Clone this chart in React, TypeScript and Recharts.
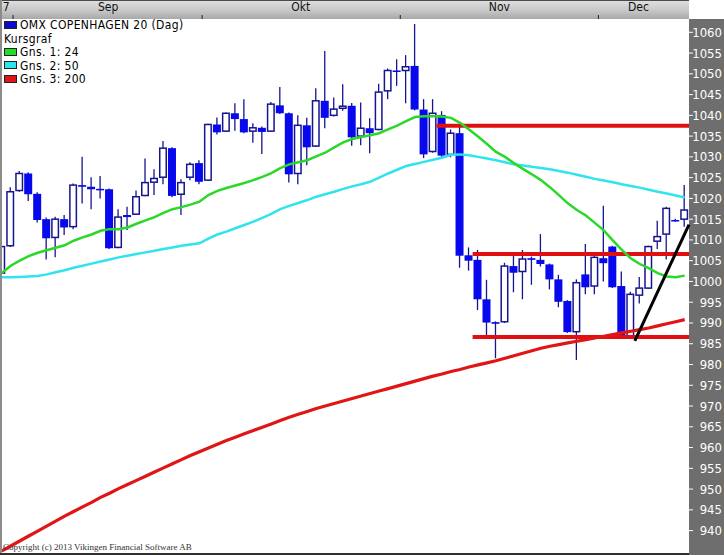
import React from "react";
import { ComposedChart, Bar, Line, XAxis, YAxis, ReferenceLine } from "recharts";

const NARROW = '"Liberation Sans Narrow", "Arial Narrow", "DejaVu Sans Condensed", sans-serif';

// daily OHLC, last week of Aug to first week of Dec 2013
const opens = [
  1002.0, 1008.6, 1021.9, 1026.0, 1021.1, 1015.0, 1010.6, 1015.0, 1013.2, 1023.2,
  1022.8, 1022.3, 1022.2, 1008.2, 1016.0, 1016.2, 1020.7, 1023.9, 1025.1, 1032.1,
  1021.0, 1025.1, 1028.5, 1024.4, 1037.8, 1036.2, 1040.5, 1039.1, 1036.2, 1037.0,
  1036.2, 1042.4, 1040.5, 1026.0, 1037.6, 1032.6, 1043.5, 1040.0, 1041.7, 1042.3,
  1035.0, 1036.9, 1036.6, 1045.9, 1050.8, 1050.8, 1051.9, 1041.4, 1031.3, 1040.1,
  1030.6, 1035.7, 1006.3, 1005.2, 995.7, 990.2, 990.3, 1003.7, 1002.4, 1005.6,
  1005.2, 1004.1, 1000.5, 995.3, 987.9, 1001.7, 998.9, 1005.6, 1008.4, 998.9,
  986.6, 996.7, 998.4, 1009.7, 1011.4, 1014.8, 1015.0,
];
const highs = [
  1008.8, 1022.7, 1026.6, 1026.3, 1021.5, 1015.4, 1015.6, 1016.0, 1023.6, 1030.0,
  1025.1, 1025.4, 1022.4, 1017.4, 1018.0, 1021.9, 1029.6, 1027.0, 1033.8, 1032.3,
  1024.6, 1028.7, 1029.2, 1038.0, 1039.5, 1040.7, 1042.9, 1043.9, 1038.1, 1037.3,
  1043.2, 1046.8, 1040.7, 1040.0, 1039.4, 1046.5, 1055.5, 1044.3, 1047.5, 1043.0,
  1043.1, 1039.3, 1047.6, 1051.3, 1053.5, 1054.5, 1062.0, 1043.9, 1043.9, 1041.0,
  1036.6, 1037.3, 1008.2, 1007.6, 1000.4, 990.4, 1004.5, 1006.6, 1007.6, 1006.0,
  1011.4, 1004.3, 1001.6, 995.5, 1000.5, 1009.0, 1007.0, 1018.2, 1008.6, 1002.4,
  997.5, 1001.1, 1008.6, 1014.6, 1018.0, 1015.1, 1023.2,
];
const lows = [
  1001.2, 1008.3, 1021.6, 1019.4, 1014.2, 1005.3, 1005.8, 1011.2, 1012.6, 1018.8,
  1017.4, 1020.0, 1007.8, 1008.0, 1012.4, 1016.0, 1020.5, 1020.8, 1023.4, 1020.3,
  1016.0, 1024.4, 1023.4, 1024.2, 1035.4, 1036.0, 1036.3, 1035.7, 1033.4, 1030.7,
  1036.0, 1040.3, 1023.8, 1023.4, 1028.0, 1032.4, 1036.9, 1039.7, 1041.1, 1032.7,
  1032.8, 1030.9, 1036.4, 1043.9, 1047.1, 1042.9, 1041.2, 1029.7, 1031.0, 1030.0,
  1029.9, 1003.3, 1002.6, 993.1, 986.1, 981.5, 990.0, 997.4, 995.7, 999.2,
  1003.6, 998.1, 993.8, 987.6, 981.1, 996.9, 996.9, 1000.0, 998.4, 986.4,
  986.4, 994.7, 998.2, 1007.8, 1005.3, 1014.4, 1013.2,
];
const closes = [
  1008.4, 1021.6, 1026.0, 1021.0, 1014.8, 1010.4, 1015.0, 1013.0, 1023.2, 1022.8,
  1022.2, 1022.1, 1008.0, 1015.5, 1015.5, 1020.4, 1023.8, 1024.8, 1032.1, 1020.6,
  1023.8, 1028.2, 1024.0, 1037.8, 1035.9, 1040.5, 1039.1, 1035.9, 1037.0, 1036.0,
  1042.7, 1040.5, 1025.8, 1037.6, 1032.3, 1043.5, 1039.4, 1041.5, 1042.2, 1034.7,
  1036.9, 1035.7, 1045.6, 1050.8, 1050.5, 1051.7, 1041.4, 1030.6, 1040.5, 1030.3,
  1035.7, 1006.2, 1005.0, 995.7, 990.1, 989.8, 1003.7, 1002.1, 1005.4, 1005.2,
  1004.2, 1000.5, 995.1, 987.8, 999.7, 998.6, 1005.8, 1004.4, 998.6, 986.6,
  996.9, 998.4, 1008.4, 1010.8, 1017.6, 1014.6, 1017.2,
];

// moving averages (Gns. 1: 24, Gns. 2: 50, Gns. 3: 200)
const ma24 = [
  1002.0, 1003.8, 1005.0, 1006.1, 1006.9, 1007.5, 1008.1, 1008.7, 1009.8, 1010.6,
  1011.3, 1012.2, 1012.6, 1012.6, 1013.0, 1013.9, 1014.7, 1015.5, 1016.5, 1017.4,
  1017.9, 1018.5, 1019.2, 1020.8, 1021.8, 1022.5, 1023.1, 1023.7, 1024.4, 1025.2,
  1026.1, 1027.3, 1028.2, 1028.7, 1029.2, 1030.1, 1031.0, 1032.3, 1033.5, 1034.3,
  1034.8, 1035.2, 1035.7, 1036.6, 1037.5, 1038.6, 1039.6, 1039.8, 1039.8, 1039.7,
  1039.4, 1038.2, 1036.6, 1034.9, 1033.1, 1031.2, 1030.0, 1028.5, 1027.1, 1025.8,
  1024.4, 1022.7, 1020.8, 1018.8, 1017.2, 1015.9, 1014.1, 1012.3, 1009.9, 1007.6,
  1005.6, 1004.2, 1003.2, 1002.0, 1001.2, 1001.0, 1001.4,
];
const ma50 = [
  1001.0, 1001.0, 1001.1, 1001.2, 1001.3, 1001.7, 1002.2, 1002.7, 1003.3, 1003.8,
  1004.3, 1004.8, 1005.3, 1005.8, 1006.2, 1006.6, 1007.0, 1007.4, 1007.8, 1008.2,
  1008.6, 1008.9, 1009.2, 1010.3, 1011.3, 1012.0, 1012.8, 1013.6, 1014.4, 1015.3,
  1016.3, 1017.4, 1018.2, 1018.9, 1019.6, 1020.4, 1021.0, 1021.6, 1022.3, 1022.9,
  1023.4, 1024.0, 1025.0, 1026.0, 1026.9, 1027.8, 1028.3, 1028.8, 1029.3, 1029.8,
  1030.5, 1030.6, 1030.4, 1030.0, 1029.6, 1029.2, 1028.7, 1028.2, 1027.9, 1027.6,
  1027.3, 1027.0, 1026.6, 1026.2, 1025.7, 1025.2, 1024.7, 1024.3, 1023.9, 1023.4,
  1023.0, 1022.6, 1022.1, 1021.6, 1021.2, 1020.7, 1020.2,
];
const ma200 = [
  935.1, 936.3, 937.5, 938.7, 939.9, 941.1, 942.3, 943.5, 944.6, 945.7,
  946.8, 948.0, 949.0, 950.1, 951.1, 952.1, 953.1, 954.1, 955.1, 956.1,
  957.1, 958.1, 959.0, 959.9, 960.8, 961.7, 962.5, 963.3, 964.1, 964.9,
  965.7, 966.5, 967.3, 968.0, 968.7, 969.4, 970.0, 970.6, 971.2, 971.8,
  972.4, 973.0, 973.6, 974.2, 974.8, 975.4, 976.0, 976.6, 977.2, 977.7,
  978.3, 978.8, 979.4, 979.9, 980.4, 980.9, 981.5, 982.1, 982.7, 983.3,
  983.9, 984.4, 984.8, 985.2, 985.6, 986.0, 986.4, 986.8, 987.2, 987.6,
  988.0, 988.4, 988.8, 989.3, 989.8, 990.3, 990.8,
];

const monthBoundaries = [1.26, 22.3, 44.35, 66.4];
const monthLabels = ["7", "Sep", "Okt", "Nov", "Dec"];
const monthLabelPos = [0.5, 11.84, 33.27, 55.38, 70.86];

const priceTicks = [
  940, 945, 950, 955, 960, 965, 970, 975, 980, 985, 990, 995, 1000,
  1005, 1010, 1015, 1020, 1025, 1030, 1035, 1040, 1045, 1050, 1055, 1060,
];

// drawn support / resistance levels and trend line
const levelPrices = [1037.5, 1006.6, 986.6];
const levelStarts = [48.4, 52.4, 52.4];
const trendStart = { x: 70.45, y: 985.7 };
const trendEnd = { x: 76.48, y: 1013.7 };

const X_DOMAIN: [number, number] = [0.03, 76.48];
const Y_DOMAIN: [number, number] = [934.85, 1063.2];

const data = opens.map((o, i) => ({
  idx: i,
  open: o,
  high: highs[i],
  low: lows[i],
  close: closes[i],
  ma24: ma24[i],
  ma50: ma50[i],
  ma200: ma200[i],
}));

function Candle(props: any) {
  const { x, y, width, height, payload } = props;
  if (height == null || !payload) return null;
  const { open, close, high, low } = payload;
  const ratio = height / (high - low);
  const py = (v: number) => y + (high - v) * ratio;
  const cx = x + width / 2;
  const top = py(Math.max(open, close));
  const bh = Math.max(py(Math.min(open, close)) - top, 1.5);
  const up = close >= open;
  return (
    <g>
      <line x1={cx} x2={cx} y1={y} y2={y + height} stroke="#15158e" strokeWidth={1.3} />
      {up ? (
        <rect x={x + 0.75} y={top} width={width - 1.5} height={bh} fill="#fff" stroke="#15158e" strokeWidth={1.5} />
      ) : (
        <rect x={x} y={top} width={width} height={bh} fill="#0808ec" />
      )}
    </g>
  );
}

function MonthTick(props: any) {
  const { x, payload } = props;
  const v = payload.value;
  if (monthBoundaries.includes(v)) {
    return <line x1={x} x2={x} y1={15} y2={19} stroke="#222" strokeWidth={1} />;
  }
  const i = monthLabelPos.indexOf(v);
  return (
    <text x={x} y={11} textAnchor="middle" fontSize={12} fontFamily={NARROW} fill="#111">
      {monthLabels[i]}
    </text>
  );
}

function PriceTick(props: any) {
  const { y, payload } = props;
  return (
    <g>
      <line x1={689} x2={693} y1={y} y2={y} stroke="#fff" strokeWidth={1} />
      <text x={722} y={y + 4.5} textAnchor="end" fontSize={13} fontFamily={NARROW} fill="#fff">
        {payload.value}
      </text>
    </g>
  );
}

const legendRows = [
  { text: "OMX COPENHAGEN 20 (Dag)", color: "#0a0ad0", top: 19.3 },
  { text: "Kursgraf", color: null, top: 32.8 },
  { text: "Gns. 1: 24", color: "#22dd22", top: 46.3 },
  { text: "Gns. 2: 50", color: "#30e4ee", top: 59.8 },
  { text: "Gns. 3: 200", color: "#e01515", top: 73.3 },
];

export default function App() {
  return (
    <div style={{ position: "absolute", left: 0, top: 0, width: 724, height: 555, background: "#fff", overflow: "hidden" }}>
      {/* frame */}
      <div style={{ position: "absolute", left: 0, top: 0, width: 689, height: 19, background: "linear-gradient(#dedede, #c6c6c6 55%, #a8a8a8)", borderTop: "1px solid #4a4a4a", boxSizing: "border-box" }} />
      <div style={{ position: "absolute", left: 689, top: 19, width: 35, height: 536, background: "#6e6e6e" }} />
      <div style={{ position: "absolute", left: 0, top: 0, width: 2, height: 555, background: "#8c8c8c" }} />
      <div style={{ position: "absolute", left: 0, top: 553, width: 689, height: 2, background: "#303030" }} />

      <div style={{ position: "absolute", left: 0, top: 0 }}>
        <ComposedChart width={724} height={555} data={data} margin={{ top: 0, right: 0, bottom: 3, left: 2 }}>
          <XAxis
            dataKey="idx"
            type="number"
            orientation="top"
            domain={X_DOMAIN}
            allowDataOverflow
            ticks={[...monthBoundaries, ...monthLabelPos]}
            interval={0}
            height={19}
            axisLine={false}
            tickLine={false}
            tick={<MonthTick />}
          />
          <YAxis
            type="number"
            orientation="right"
            domain={Y_DOMAIN}
            allowDataOverflow
            ticks={priceTicks}
            interval={0}
            width={35}
            axisLine={false}
            tickLine={false}
            tick={<PriceTick />}
          />
          <Bar dataKey={(d: any) => [d.low, d.high]} barSize={8} shape={<Candle />} isAnimationActive={false} />
          {levelPrices.map((p, i) => (
            <ReferenceLine
              key={"lvl" + i}
              segment={[{ x: levelStarts[i], y: p }, { x: X_DOMAIN[1], y: p }]}
              stroke="#e01010"
              strokeWidth={4}
              ifOverflow="visible"
            />
          ))}
          <Line dataKey="ma200" stroke="#e01515" strokeWidth={3.2} dot={false} isAnimationActive={false} />
          <Line dataKey="ma50" stroke="#30e4ee" strokeWidth={2.5} dot={false} isAnimationActive={false} />
          <Line dataKey="ma24" stroke="#2ad82a" strokeWidth={2.5} dot={false} isAnimationActive={false} />
          <ReferenceLine segment={[trendStart, trendEnd]} stroke="#000" strokeWidth={3} ifOverflow="visible" />
        </ComposedChart>
      </div>

      {/* legend */}
      {legendRows.map((r) => (
        <div key={r.text} style={{ position: "absolute", left: 4, top: r.top, height: 12, fontFamily: NARROW, fontSize: 12, letterSpacing: 0.35, lineHeight: "12px", color: "#000", whiteSpace: "nowrap" }}>
          {r.color && (
            <span style={{ display: "inline-block", verticalAlign: "middle", width: 11, height: 6, background: r.color, border: "1px solid #222", marginRight: 3, marginTop: -2 }} />
          )}
          <span>{r.text}</span>
        </div>
      ))}

      <div style={{ position: "absolute", left: 3, top: 542, fontFamily: '"Liberation Serif", "DejaVu Serif", serif', fontSize: 9, lineHeight: "11px", color: "#333", whiteSpace: "nowrap" }}>
        Copyright (c) 2013 Vikingen Financial Software AB
      </div>
    </div>
  );
}
